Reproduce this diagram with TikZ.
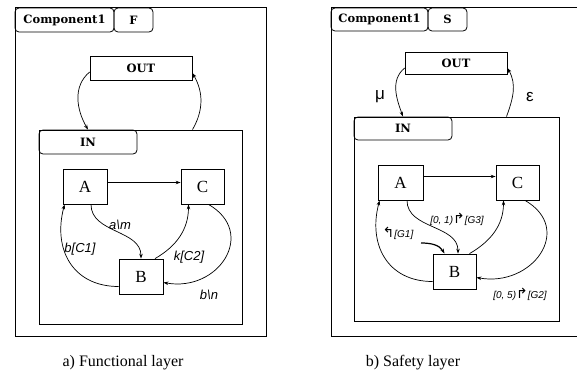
\documentclass[tikz,border=0pt]{standalone}
\usepackage{fontspec}
\setmainfont{Liberation Serif}
\newfontfamily\tabfont{DejaVu Serif}
\newfontfamily\lblfont{Liberation Sans}
\newfontfamily\symfont{DejaVu Sans}
\newcommand{\resetsym}[1]{{\symfont\upshape\fontsize{14}{10}\selectfont #1}}
\usetikzlibrary{arrows.meta}

\begin{document}
\begin{tikzpicture}[x=1pt,y=-1pt,>={Stealth[length=5pt,width=3.5pt]},
	boxline/.style={draw,line width=0.8pt,inner sep=0pt},
	boldlabel/.style={font=\tabfont\bfseries\fontsize{11.5}{13}\selectfont},
	tabbox/.style={boxline,rounded corners=4pt,boldlabel},
	outbox/.style={boxline,boldlabel,minimum width=102pt},
	statebox/.style={boxline,minimum height=35pt,font=\fontsize{17}{17}\selectfont},
	lbl/.style={inner sep=0pt,font=\lblfont\itshape\fontsize{13}{13}\selectfont},
	slbl/.style={inner sep=0pt,font=\lblfont\itshape\fontsize{10}{10}\selectfont},
	greek/.style={inner sep=0pt,font=\lblfont\fontsize{17}{17}\selectfont},
	capt/.style={inner sep=0pt,font=\fontsize{16}{16}\selectfont},
	trans/.style={->,line width=0.7pt}]
	\useasboundingbox (0,0) rectangle (577,377);
	\clip (0,0) rectangle (577,377);

	% a) functional layer
	\draw (140.5,171.5) node[boxline,minimum width=251pt,minimum height=329pt] (compF) {}
	(64.5,20) node[tabbox,minimum width=99pt,minimum height=24pt] (nameF) {Component1}
	(133.5,20) node[tabbox,minimum width=39pt,minimum height=24pt] (layerF) {F}
	(141,68) node[outbox,minimum height=24pt] (outF) {OUT}
	(140.5,227) node[boxline,minimum width=203pt,minimum height=194pt] (inF) {}
	(88,142) node[tabbox,minimum width=98pt,minimum height=24pt] (intabF) {IN}
	(85,186.5) node[statebox,minimum width=44pt] (aF) {A}
	(202.5,186.5) node[statebox,minimum width=43pt] (cF) {C}
	(141,276.5) node[statebox,minimum width=44pt] (bF) {B}
	(120,225) node[lbl] (amF) {a\textbackslash m}
	(80,249) node[lbl] (bcF) {b[C1]}
	(189,257) node[lbl] (kcF) {k[C2]}
	(209,295) node[lbl] (bnF) {b\textbackslash n}
	(123,363) node[capt] (captF) {a) Functional layer};

	\draw[trans] ([yshift=-4pt]outF.west) to[out=220,in=120] (intabF.north);
	\draw[trans] ([xshift=52pt]inF.north) to[out=60,in=-60] ([yshift=-5pt]outF.east);
	\draw[trans] ([yshift=4pt]aF.east) -- ([yshift=4pt]cF.west);
	\draw[trans] ([xshift=6pt]aF.south) to[out=-90,in=90] (bF.north);
	\draw[trans] ([yshift=-10pt]bF.west) to[out=180,in=-105,looseness=1.2] ([xshift=2pt]aF.south west);
	\draw[trans] ([xshift=14pt]bF.north) to[out=30,in=-90] ([xshift=-14pt]cF.south);
	\draw[trans] ([xshift=6pt]cF.south) to[out=-30,in=-10,looseness=1.6] ([yshift=-6pt]bF.east);

	% b) safety layer
	\draw (465.5,171.5) node[boxline,minimum width=269pt,minimum height=329pt] (compS) {}
	(379.5,19.5) node[tabbox,minimum width=97pt,minimum height=23pt] (nameS) {Component1}
	(447.5,19.5) node[tabbox,minimum width=39pt,minimum height=23pt] (layerS) {S}
	(456,63) node[outbox,minimum height=22pt] (outS) {OUT}
	(456.5,219) node[boxline,minimum width=205pt,minimum height=204pt] (inS) {}
	(403,128.5) node[tabbox,minimum width=98pt,minimum height=23pt] (intabS) {IN}
	(400.5,182.5) node[statebox,minimum width=45pt] (aS) {A}
	(517.5,182.5) node[statebox,minimum width=43pt] (cS) {C}
	(454.5,271.5) node[statebox,minimum width=43pt] (bS) {B}
	(380,97) node[greek] (muS) {μ}
	(530,97) node[greek] (epsS) {ε}
	(457,219) node[slbl] (g3S) {[0, 1)\resetsym{↱}[G3]}
	(398,233) node[slbl] (g1S) {\resetsym{↰}[G1]}
	(520,294) node[slbl] (g2S) {[0, 5)\resetsym{↱}[G2]}
	(413,363) node[capt] (captS) {b) Safety layer};
	\coordinate (initS) at (421,243);

	\draw[trans] ([yshift=-5pt]outS.west) to[out=220,in=110] (intabS.north);
	\draw[trans] ([xshift=50pt]inS.north) to[out=70,in=-60] ([yshift=-5pt]outS.east);
	\draw[trans] ([yshift=6pt]aS.east) -- ([yshift=6pt]cS.west);
	\draw[trans] ([xshift=6.5pt]aS.south) to[out=-90,in=90] ([xshift=3.5pt]bS.north);
	\draw[trans] ([yshift=-10pt]bS.west) to[out=180,in=-105,looseness=1.2] ([xshift=2pt]aS.south west);
	\draw[trans] ([xshift=15pt]bS.north) to[out=30,in=-90] ([xshift=-14pt]cS.south);
	\draw[trans] ([xshift=7.5pt]cS.south) to[out=-30,in=-10,looseness=1.6] ([yshift=-6pt]bS.east);
	\draw[trans,line width=1.2pt] (initS) to[out=0,in=120] ([xshift=-10pt]bS.north);
\end{tikzpicture}
\end{document}
